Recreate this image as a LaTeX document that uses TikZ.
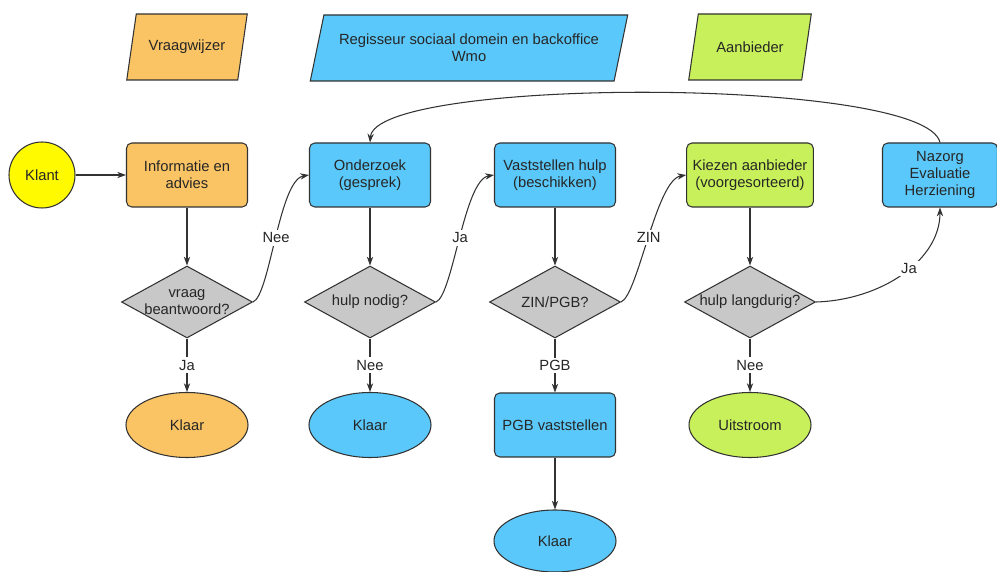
\documentclass[tikz,border=0pt]{standalone}
\usepackage{fontspec}
\setmainfont{Liberation Sans}
\usetikzlibrary{shapes.geometric,arrows.meta}
\definecolor{oranje}{RGB}{250,196,100}
\definecolor{blauw}{RGB}{90,200,250}
\definecolor{groen}{RGB}{200,240,90}
\definecolor{geel}{RGB}{255,250,0}
\definecolor{grijs}{RGB}{200,200,200}
\definecolor{lijn}{RGB}{50,50,50}
\tikzset{
  proces/.style={draw=lijn, line width=0.6pt, rounded corners=3pt, minimum width=2.42cm, minimum height=1.28cm, align=center},
  beslis/.style={diamond, draw=lijn, line width=0.6pt, fill=grijs, aspect=1.8, inner sep=-3pt, minimum width=2.62cm, minimum height=1.44cm, align=center},
  eind/.style={ellipse, draw=lijn, line width=0.6pt, minimum width=2.44cm, minimum height=1.3cm},
  rol/.style={trapezium, trapezium left angle=72, trapezium right angle=108, trapezium stretches=true, draw=lijn, line width=0.6pt, minimum height=1.32cm, align=center},
  keuze/.style={fill=white, inner sep=1.5pt},
}
\begin{document}
\begin{tikzpicture}[node distance=3.7cm, >={Stealth[length=5pt,width=3.6pt]}, font=\fontsize{8.4}{9.5}\selectfont, text=black!85, line width=0.6pt, draw=lijn]
    \useasboundingbox (0,0) rectangle (19.94,-11.44);

    \node (info)        [proces, fill=oranje] at (3.74,-3.5)               {Informatie en\\advies};
    \node (klant)       [circle, draw=lijn, fill=geel, minimum size=1.32cm, node distance=2.9cm, left of=info] {Klant};
    \node (onderzoek)   [proces, fill=blauw, node distance=3.66cm, right of=info] {Onderzoek\\(gesprek)};
    \node (vaststellen) [proces, fill=blauw, right of=onderzoek]           {Vaststellen hulp\\(beschikken)};
    \node (kiezen)      [proces, fill=groen, node distance=3.9cm, right of=vaststellen] {Kiezen aanbieder\\(voorgesorteerd)};
    \node (nazorg)      [proces, fill=blauw, minimum width=2.3cm, node distance=3.8cm, right of=kiezen] {Nazorg\\Evaluatie\\Herziening};

    \node (vraagwijzer) [rol, fill=oranje, minimum width=2.42cm, node distance=2.56cm, above of=info]   {Vraagwijzer};
    \node (regisseur)   [rol, fill=blauw, minimum width=6.36cm] at (9.38,-0.96) {Regisseur sociaal domein en backoffice\\Wmo};
    \node (aanbieder)   [rol, fill=groen, minimum width=2.46cm, node distance=2.56cm, above of=kiezen] {Aanbieder};

    \node (vraag)       [beslis, node distance=2.54cm, below of=info]        {vraag\\beantwoord?};
    \node (nodig)       [beslis, node distance=2.54cm, below of=onderzoek]   {hulp nodig?};
    \node (zinpgb)      [beslis, node distance=2.54cm, below of=vaststellen] {ZIN/PGB?};
    \node (langdurig)   [beslis, node distance=2.54cm, below of=kiezen]      {hulp langdurig?};

    \node (klaar1)      [eind, fill=oranje, node distance=2.46cm, below of=vraag]   {Klaar};
    \node (klaar2)      [eind, fill=blauw, node distance=2.46cm, below of=nodig]    {Klaar};
    \node (pgb)         [proces, fill=blauw, node distance=2.46cm, below of=zinpgb] {PGB vaststellen};
    \node (uitstroom)   [eind, fill=groen, node distance=2.46cm, below of=langdurig] {Uitstroom};
    \node (klaar3)      [eind, fill=blauw, minimum height=1.24cm, node distance=2.32cm, below of=pgb] {Klaar};

    \draw[->] (klant) -- (info);
    \draw[->] (info) -- (vraag);
    \draw[->] (vraag) -- (klaar1) node[keuze, midway] {Ja};
    \draw[->] (vraag.east) .. controls +(0.34,0.14) and +(-0.6,-0.1) .. (onderzoek.west) node[keuze, midway] {Nee};

    \draw[->] (onderzoek) -- (nodig);
    \draw[->] (nodig) -- (klaar2) node[keuze, midway] {Nee};
    \draw[->] (nodig.east) .. controls +(0.34,0.14) and +(-0.6,-0.1) .. (vaststellen.west) node[keuze, midway] {Ja};

    \draw[->] (vaststellen) -- (zinpgb);
    \draw[->] (zinpgb) -- (pgb) node[keuze, midway] {PGB};
    \draw[->] (pgb) -- (klaar3);
    \draw[->] (zinpgb.east) .. controls +(0.34,0.14) and +(-0.6,-0.1) .. (kiezen.west) node[keuze, midway] {ZIN};

    \draw[->] (kiezen) -- (langdurig);
    \draw[->] (langdurig) -- (uitstroom) node[keuze, midway] {Nee};
    \draw[->] (langdurig.east) .. controls +(1.3,0.04) and +(0,-1.06) .. (nazorg.south) node[keuze, pos=0.55] {Ja};

    \draw[->] (nazorg.north) .. controls +(-0.3,1.32) and +(0.1,1.32) .. (onderzoek.north);
\end{tikzpicture}
\end{document}
